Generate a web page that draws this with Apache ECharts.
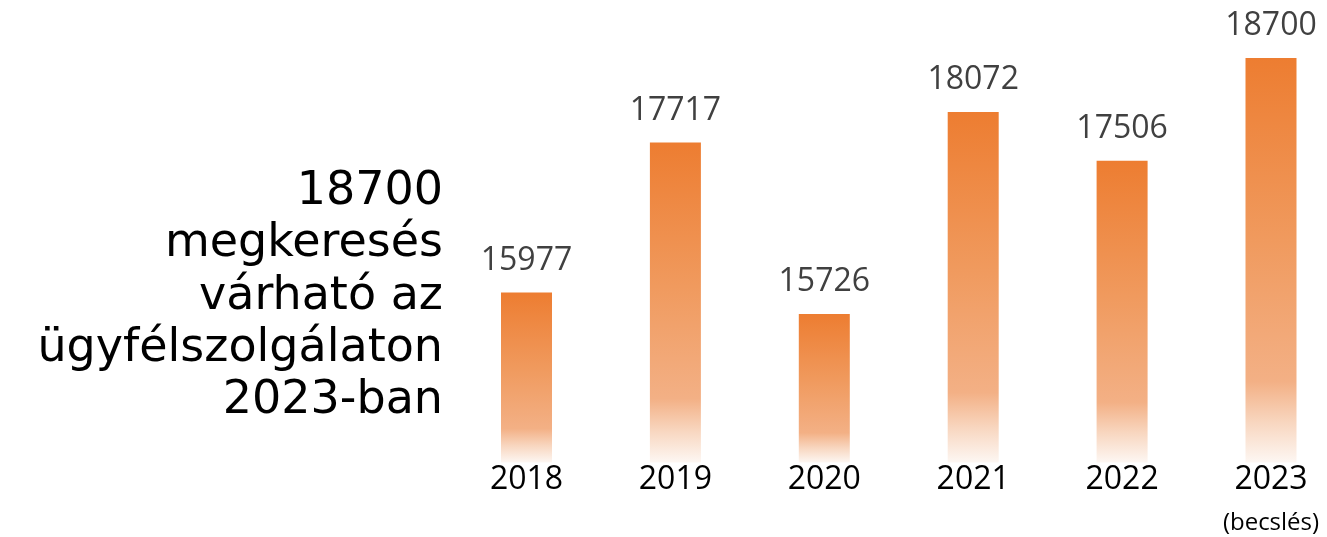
<!DOCTYPE html>
<html>
<head>
<meta charset="utf-8">
<script src="https://cdn.jsdelivr.net/npm/echarts@6/dist/echarts.min.js"></script>
<style>html,body{margin:0;padding:0;background:#fff}#c{width:1327px;height:537px}</style>
</head>
<body>
<div id="c"></div>
<script>
const categories = ['2018', '2019', '2020', '2021', '2022', '2023'];
const values = [15977, 17717, 15726, 18072, 17506, 18700];
const estimateNote = '(becslés)';
const headline = ['18700', 'megkeresés', 'várható az', 'ügyfélszolgálaton', '2023-ban'];

const chart = echarts.init(document.getElementById('c'), null, {renderer: 'canvas'});
chart.setOption({
  animation: false,
  backgroundColor: '#ffffff',
  grid: {left: 526.5, right: 56, top: 58, bottom: 74.4, containLabel: false},
  xAxis: {
    type: 'category',
    data: categories,
    boundaryGap: false,
    axisLine: {show: false},
    axisTick: {show: false},
    splitLine: {show: false},
    axisLabel: {
      interval: 0,
      margin: 1,
      color: '#000000',
      fontFamily: 'Open Sans',
      fontSize: 32,
      formatter: function (v) {
        return v === categories[categories.length - 1] ? '{y|' + v + '}\n{n|' + estimateNote + '}' : '{y|' + v + '}';
      },
      rich: {
        y: {fontFamily: 'Open Sans', fontSize: 32, color: '#000', lineHeight: 32},
        n: {fontFamily: 'Open Sans', fontSize: 24, color: '#000', lineHeight: 56}
      }
    }
  },
  yAxis: {
    type: 'value',
    min: 14000,
    max: 18700,
    show: false,
    splitLine: {show: false}
  },
  series: [{
    type: 'bar',
    data: values,
    barWidth: 51,
    itemStyle: {
      color: new echarts.graphic.LinearGradient(0, 0, 0, 1, [
        {offset: 0, color: '#ED7D31'},
        {offset: 0.45, color: '#F09A5E'},
        {offset: 0.8, color: '#F3B085'},
        {offset: 0.9, color: '#F8D6BF'},
        {offset: 1, color: '#FDF7F3'}
      ])
    },
    label: {
      show: true,
      position: 'top',
      distance: 16,
      color: '#404040',
      fontFamily: 'Open Sans',
      fontSize: 32
    }
  }],
  graphic: [{
    type: 'text',
    x: 443,
    y: 166,
    style: {
      text: headline.join('\n'),
      fontFamily: 'DejaVu Sans',
      fontSize: 46,
      lineHeight: 52.3,
      fill: '#000000',
      align: 'right',
      verticalAlign: 'top'
    }
  }]
});
</script>
</body>
</html>
